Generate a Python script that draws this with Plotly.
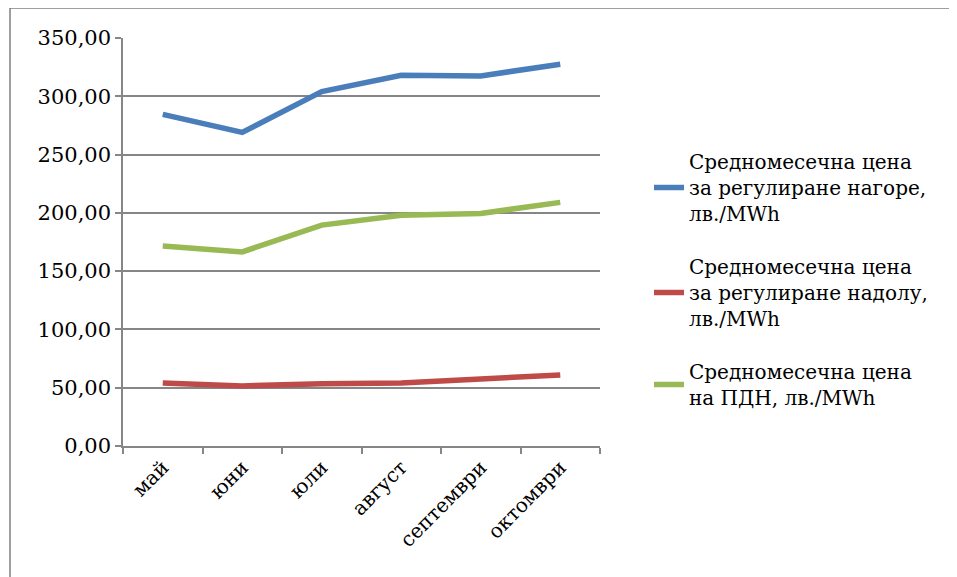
import plotly.graph_objects as go

months = ["май", "юни", "юли", "август", "септември", "октомври"]
up_price = [284.5, 269.0, 304.0, 318.0, 317.5, 327.5]
down_price = [54.0, 51.5, 53.5, 54.0, 57.5, 61.0]
pdn_price = [171.5, 166.5, 189.5, 198.0, 199.5, 209.0]

names = [
    "Средномесечна цена<br>за регулиране нагоре,<br>лв./MWh",
    "Средномесечна цена<br>за регулиране надолу,<br>лв./MWh",
    "Средномесечна цена<br>на ПДН, лв./MWh",
]
colors = ["#4A7EBB", "#BE4B48", "#98B954"]
series = [up_price, down_price, pdn_price]

font_family = "DejaVu Serif"

# page body has an 8px margin; compensate so plot lands at reference pixels
OFF = 8
L, R_EDGE, T, B_EDGE = 123 - OFF, 600 - OFF, 38 - OFF, 446 - OFF
W, H = 957, 577
PW, PH = R_EDGE - L, B_EDGE - T

fig = go.Figure()
for i, (nm, col, vals) in enumerate(zip(names, colors, series)):
    fig.add_trace(go.Scatter(
        x=months, y=vals, mode="lines", name=nm,
        line=dict(color=col, width=5.5),
        legendgroup=f"g{i}",
        hoverinfo="skip",
    ))

def px_x(x):
    return (x - OFF - L) / PW

def px_y(y):
    return (B_EDGE - (y - OFF)) / PH

fig.update_layout(
    width=W, height=H,
    margin=dict(l=L, r=W - R_EDGE, t=T, b=H - B_EDGE),
    paper_bgcolor="white", plot_bgcolor="white",
    separators=", ",
    font=dict(family=font_family, size=20, color="black"),
    showlegend=True,
    legend=dict(
        x=px_x(649), xanchor="left", y=px_y(142), yanchor="top",
        font=dict(family=font_family, size=20, color="black"),
        tracegroupgap=24,
        bgcolor="rgba(0,0,0,0)",
        itemwidth=30,
    ),
    xaxis=dict(
        type="category",
        showgrid=False,
        showline=True, linecolor="#868686", linewidth=1.5,
        ticks="outside", tickson="boundaries", ticklen=6, tickcolor="#868686", tickwidth=1.5,
        tickangle=-45,
        tickfont=dict(family=font_family, size=20, color="black"),
        range=[-0.5, 5.5],
    ),
    yaxis=dict(
        range=[0, 350], dtick=50, tick0=0,
        tickformat=".2f",
        showgrid=True, gridcolor="#868686", gridwidth=1.5,
        showline=True, linecolor="#868686", linewidth=1.5,
        ticks="outside", ticklen=6, tickcolor="#868686", tickwidth=1.5,
        tickfont=dict(family=font_family, size=21, color="black"),
        zeroline=False,
    ),
    shapes=[
        dict(type="line", xref="paper", yref="paper",
             x0=px_x(10), x1=px_x(970), y0=px_y(8), y1=px_y(8),
             line=dict(color="#7F7F7F", width=1.5)),
        dict(type="line", xref="paper", yref="paper",
             x0=px_x(10), x1=px_x(10), y0=px_y(8), y1=px_y(590),
             line=dict(color="#7F7F7F", width=1.5)),
    ],
)

fig.write_html("out.html")
